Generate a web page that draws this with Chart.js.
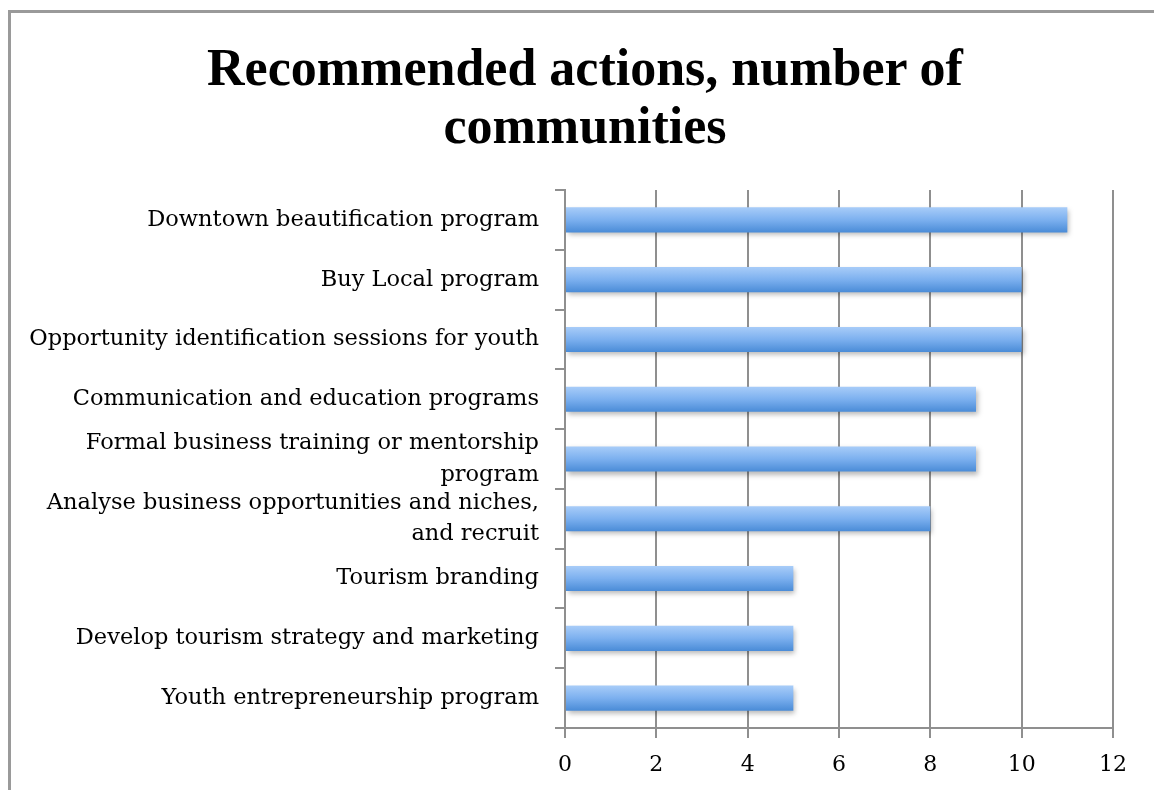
<!DOCTYPE html>
<html>
<head>
<meta charset="utf-8">
<script src="https://cdn.jsdelivr.net/npm/chart.js@4"></script>
<style>
  html, body { margin: 0; padding: 0; background: #fff; overflow: hidden; }
  body { width: 1154px; height: 790px; position: relative; }
  #frame { position: absolute; left: 8px; top: 10px; width: 1300px; height: 900px;
           border-left: 3px solid #9a9a9a; border-top: 3px solid #9a9a9a; }
  #title { position: absolute; left: 16px; width: 1138px; top: 39px; text-align: center;
           font-family: "Liberation Serif", serif; font-weight: bold; font-size: 52px;
           line-height: 58px; color: #000; }
  #wrap { position: absolute; left: 0; top: 0; width: 1154px; height: 790px; }
</style>
</head>
<body>
<div id="frame"></div>
<div id="title">Recommended actions, number of<br>communities</div>
<div id="wrap"><canvas id="c" width="1154" height="790"></canvas></div>
<script>
const categories = [
  "Downtown beautification program",
  "Buy Local program",
  "Opportunity identification sessions for youth",
  "Communication and education programs",
  ["Formal business training or mentorship", "program"],
  ["Analyse business opportunities and niches,", "and recruit"],
  "Tourism branding",
  "Develop tourism strategy and marketing",
  "Youth entrepreneurship program"
];
const communities = [11, 10, 10, 9, 9, 8, 5, 5, 5];
const xTicks = [0, 2, 4, 6, 8, 10, 12];

const gridColor = '#8f8f8f';
const labelFont = { family: "DejaVu Serif", size: 22.5, lineHeight: 1.4 };

const shadowPlugin = {
  id: 'barShadow',
  beforeDatasetsDraw(chart) {
    const ctx = chart.ctx;
    ctx.save();
    ctx.shadowColor = 'rgba(0,0,0,0.28)';
    ctx.shadowBlur = 5;
    ctx.shadowOffsetX = 2;
    ctx.shadowOffsetY = 3;
  },
  afterDatasetsDraw(chart) { chart.ctx.restore(); }
};

function barGradient(context) {
  const chart = context.chart;
  const ys = chart.scales && chart.scales.y;
  if (!chart.chartArea || !ys || context.dataIndex === undefined) return '#6fa6e6';
  const yc = ys.getPixelForValue(context.dataIndex);
  const el = context.element;
  let h = el && isFinite(el.height) && el.height > 0 ? el.height : 24;
  if (!isFinite(yc)) return '#6fa6e6';
  const g = chart.ctx.createLinearGradient(0, yc - h / 2, 0, yc + h / 2);
  g.addColorStop(0, '#a6cbf8');
  g.addColorStop(0.5, '#7cb0ef');
  g.addColorStop(1, '#4c8dd8');
  return g;
}

new Chart(document.getElementById('c'), {
  type: 'bar',
  data: {
    labels: categories,
    datasets: [{
      data: communities,
      backgroundColor: barGradient,
      borderWidth: 0,
      barPercentage: 0.42,
      categoryPercentage: 1.0
    }]
  },
  options: {
    indexAxis: 'y',
    responsive: false,
    animation: false,
    devicePixelRatio: 1,
    layout: { padding: { top: 190, left: 16, right: 41, bottom: 0 } },
    plugins: { legend: { display: false }, tooltip: { enabled: false }, title: { display: false } },
    scales: {
      x: {
        min: 0, max: 12,
        afterBuildTicks(scale) { scale.ticks = xTicks.map(v => ({ value: v })); },
        afterFit(scale) { scale.height = 62; },
        grid: { color: gridColor, lineWidth: 2, tickLength: 10, drawOnChartArea: true, drawTicks: true },
        border: { color: gridColor, width: 2 },
        ticks: { color: '#000', font: { family: "DejaVu Serif", size: 22 }, padding: 14 }
      },
      y: {
        afterFit(scale) { scale.width = 549; },
        grid: { color: gridColor, lineWidth: 2, tickLength: 10, drawOnChartArea: false, offset: true },
        border: { color: gridColor, width: 2 },
        ticks: { color: '#000', font: labelFont, padding: 16, autoSkip: false }
      }
    }
  },
  plugins: [shadowPlugin]
});
</script>
</body>
</html>
